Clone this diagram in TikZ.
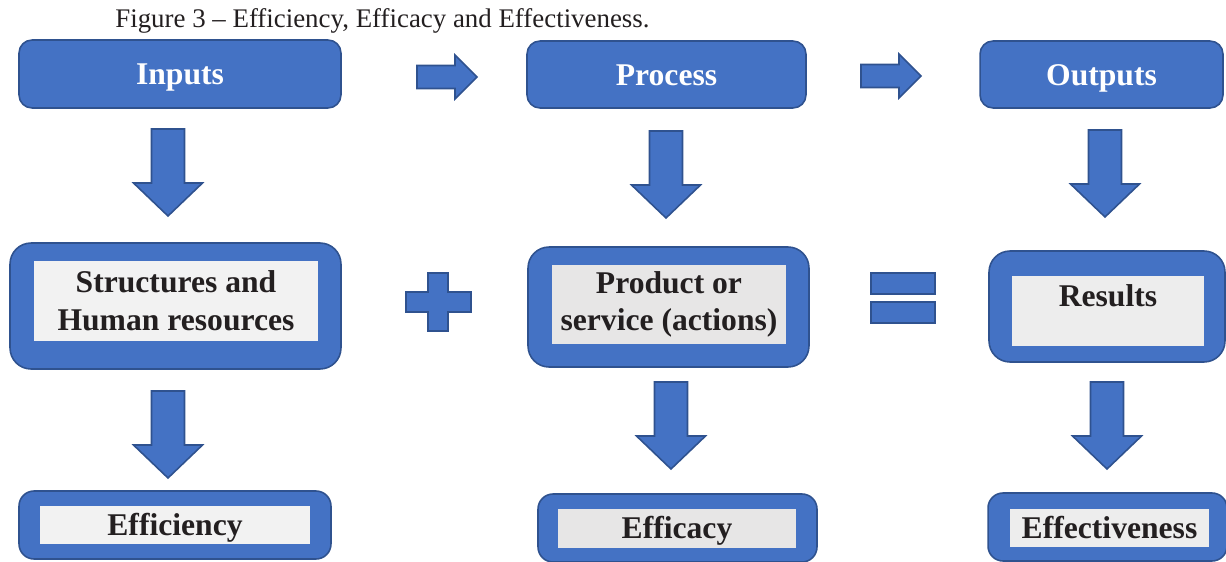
\documentclass[tikz,border=0pt]{standalone}
\usepackage{fontspec}
\setmainfont{Liberation Serif}
\usetikzlibrary{calc}

\definecolor{boxblue}{HTML}{4472C4}
\definecolor{boxline}{HTML}{2F528F}
\definecolor{paleA}{HTML}{F2F2F2}
\definecolor{paleB}{HTML}{E7E6E6}
\definecolor{paleC}{HTML}{EDEDED}
\definecolor{ink}{HTML}{231F20}

\tikzset{
  blk/.style={fill=boxblue,draw=boxline,line width=0.9pt,line join=miter},
  headbox/.style={blk,rounded corners=0.26cm,text=white,
    text height=0.52cm,text depth=0.08cm,
    font=\fontsize{18}{21}\selectfont\bfseries},
  outbox/.style={blk,rounded corners=0.42cm},
  lowbox/.style={blk,rounded corners=0.3cm},
  inbox/.style={inner sep=0pt,text=ink,align=center,
    font=\fontsize{18}{21.5}\selectfont\bfseries},
  oneline/.style={text height=0.5cm,text depth=0.1cm},
  dnarrow/.pic={\draw[blk] (-16.5,0) -- (16.5,0) -- (16.5,54) -- (34.5,54)
    -- (0,87) -- (-34.5,54) -- (-16.5,54) -- cycle;},
  rtarrow/.pic={\draw[blk] (0,-11.5) -- (38,-11.5) -- (38,-22) -- (60,0)
    -- (38,22) -- (38,11.5) -- (0,11.5) -- cycle;}
}

\begin{document}
\begin{tikzpicture}[x=0.02cm,y=-0.02cm]
\useasboundingbox (0,0) rectangle (1226,561);
\clip (0,0) rectangle (1226,561);

\node[anchor=base west,inner sep=0pt,text=ink,font=\fontsize{15.3}{18}\selectfont]
  (title) at (115,28) {Figure 3 -- Efficiency, Efficacy and Effectiveness.};

% top row
\node[headbox,minimum width=6.44cm,minimum height=1.36cm] (inputs) at (180,74) {Inputs};
\node[headbox,minimum width=5.58cm,minimum height=1.34cm] (process) at (666.5,74.5) {Process};
\node[headbox,minimum width=4.86cm,minimum height=1.34cm] (outputs) at (1101.5,74.5) {Outputs};

\pic at (417,77) {rtarrow};
\pic at (861,76) {rtarrow};

\pic at (168,129) {dnarrow};
\pic at (666,131) {dnarrow};
\pic at (1105,130) {dnarrow};

% middle row
\node[outbox,minimum width=6.62cm,minimum height=2.52cm] (struct) at (175.5,306) {};
\node[inbox,fill=paleA,minimum width=5.68cm,minimum height=1.6cm] (structin) at (176,301)
  {Structures and\\Human resources};

\node[outbox,minimum width=5.62cm,minimum height=2.4cm] (product) at (668.5,307) {};
\node[inbox,fill=paleB,minimum width=4.68cm,minimum height=1.58cm] (productin) at (669,304.5)
  {Product or\\service (actions)};

\node[outbox,minimum width=4.72cm,minimum height=2.22cm] (results) at (1107,306.5) {};
\node[inbox,fill=paleC,minimum width=3.84cm,text height=0.6cm,text depth=0.8cm] (resultsin)
  at (1108,311) {Results};

% plus and equals
\draw[blk] (428,273) -- (448,273) -- (448,292) -- (471,292) -- (471,312) -- (448,312)
  -- (448,331) -- (428,331) -- (428,312) -- (406,312) -- (406,292) -- (428,292) -- cycle;
\draw[blk] (871,273) rectangle (935,294);
\draw[blk] (871,302) rectangle (935,323);

\pic at (168,391) {dnarrow};
\pic at (671,382) {dnarrow};
\pic at (1107,382) {dnarrow};

% bottom row
\node[lowbox,minimum width=6.24cm,minimum height=1.36cm] (effic) at (175,525) {};
\node[inbox,oneline,fill=paleA,minimum width=5.4cm,minimum height=0.76cm] (efficin)
  at (175,525) {Efficiency};

\node[lowbox,minimum width=5.58cm,minimum height=1.36cm] (efficacy) at (677.5,528) {};
\node[inbox,oneline,fill=paleB,minimum width=4.76cm,minimum height=0.78cm] (efficacyin)
  at (677,528.5) {Efficacy};

\node[lowbox,minimum width=4.78cm,minimum height=1.36cm] (effect) at (1107.5,527) {};
\node[inbox,oneline,fill=paleC,minimum width=3.98cm,minimum height=0.76cm] (effectin)
  at (1109.5,528) {Effectiveness};

\end{tikzpicture}
\end{document}
